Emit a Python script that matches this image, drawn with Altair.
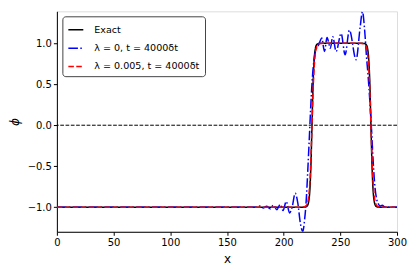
import altair as alt
import pandas as pd

# ---- data ----
exact_x = [0, 216, 219, 220, 221, 222, 223, 224, 225, 226, 227, 228, 229, 230, 231, 234,
           268, 271, 272, 273, 274, 275, 276, 277, 278, 279, 280, 281, 282, 283, 286, 300]
exact_y = [-1.0, -1.0, -0.998, -0.993, -0.98, -0.937, -0.814, -0.516, 0.0, 0.516, 0.814, 0.937, 0.98, 0.993, 0.998, 1.0,
           1.0, 0.998, 0.993, 0.98, 0.937, 0.814, 0.516, 0.0, -0.516, -0.814, -0.937, -0.98, -0.993, -0.998, -1.0, -1.0]

red_x = [0, 214, 217, 219, 220, 221, 222, 223, 224, 225, 226, 227, 228, 229, 230, 231, 233, 236,
         266, 269, 271, 272, 273, 274, 275, 276, 277, 278, 279, 280, 281, 282, 283, 285, 288, 300]
red_y = [-1.0, -1.0, -0.997, -0.99, -0.979, -0.949, -0.877, -0.72, -0.426, 0.0, 0.426, 0.72, 0.877, 0.949, 0.979, 0.99, 0.997, 1.0,
         1.0, 0.997, 0.99, 0.979, 0.949, 0.877, 0.72, 0.426, 0.0, -0.426, -0.72, -0.877, -0.949, -0.979, -0.99, -0.997, -1.0, -1.0]

blue_x = [0, 170, 176, 179, 182, 185, 188, 191, 194, 197, 199.5, 202.3, 205.2, 207.5, 210.2, 212.5, 214.8,
          216.9, 218.5, 219.9, 221.3, 222.5, 223.8, 225.2, 226.8, 228.5, 230.5, 232, 233.6, 236, 238.3, 241.2,
          243.3, 246.3, 250.7, 254.2, 258, 263.9, 267.5, 269.5, 271.5, 273, 274.5, 276, 277.5, 279, 280.5,
          282, 283.5, 285, 287, 289, 292, 300]
blue_y = [-1.0, -1.0, -1.0, -0.985, -1.01, -0.99, -1.02, -0.975, -1.03, -0.965, -1.04, -0.93, -1.07, -1.0, -0.83, -0.95, -1.2,
          -1.295, -1.15, -0.92, -0.55, -0.2, 0.2, 0.55, 0.8, 0.92, 0.97, 1.02, 1.064, 0.90, 1.07, 0.94,
          1.08, 0.90, 1.12, 0.86, 1.16, 0.80, 1.2, 1.385, 1.15, 0.85, 0.6, 0.3, -0.05, -0.45, -0.75,
          -0.9, -0.96, -0.985, -0.975, -0.995, -1.0, -1.0]

series_names = ["Exact", "λ = 0, t = 4000δt", "λ = 0.005, t = 4000δt"]
series_colors = ["#000000", "#0000ff", "#ff0000"]
series_dash = [[1, 0], [9.6, 2.4, 1.5, 2.4], [5.55, 2.4]]

x_ticks = [0, 50, 100, 150, 200, 250, 300]
y_ticks = [-1.0, -0.5, 0.0, 0.5, 1.0]

rows = []
for name, xs, ys in [(series_names[0], exact_x, exact_y),
                     (series_names[1], blue_x, blue_y),
                     (series_names[2], red_x, red_y)]:
    for i, (a, b) in enumerate(zip(xs, ys)):
        rows.append({"series": name, "x": a, "y": b, "i": i})
df = pd.DataFrame(rows)

FONT = "DejaVu Sans"

xscale = alt.Scale(domain=[0, 300], nice=False, zero=False)
yscale = alt.Scale(domain=[-1.30, 1.39], nice=False, zero=False)


def make_legend():
    return alt.Legend(title=None, orient="none", legendX=5.5, legendY=5,
                      symbolType="stroke", symbolSize=225, symbolStrokeWidth=1.5,
                      labelFont=FONT, labelFontSize=9.6, labelColor="black",
                      labelOffset=10, padding=5, rowPadding=4.4,
                      fillColor="white", strokeColor="#444", cornerRadius=3)


color = alt.Color("series:N",
                  scale=alt.Scale(domain=series_names, range=series_colors),
                  legend=make_legend())
dash = alt.StrokeDash("series:N",
                      scale=alt.Scale(domain=series_names, range=series_dash),
                      legend=make_legend())

xaxis = alt.Axis(values=x_ticks, format="d", title="x", titleFontWeight="normal",
                 titleFont=FONT, titleFontSize=12, titlePadding=6,
                 labelFont=FONT, labelFontSize=10, labelColor="black", labelPadding=2,
                 tickSize=3.5, tickColor="black", domainColor="black", grid=False, labelFlush=False)
yaxis = alt.Axis(values=y_ticks, format=".1f", title="ϕ", titleFontWeight="normal",
                 titleFontStyle="italic", titleFont=FONT, titleFontSize=12, titlePadding=6,
                 labelFont=FONT, labelFontSize=10, labelColor="black", labelPadding=2,
                 tickSize=3.5, tickColor="black", domainColor="black", grid=False)

zero_df = pd.DataFrame({"y0": [0.0]})
zero = alt.Chart(zero_df).mark_rule(color="black", strokeWidth=1, strokeDash=[3.7, 1.6]).encode(
    y=alt.Y("y0:Q", scale=yscale, axis=yaxis))

layers = []
for name in series_names:
    layers.append(
        alt.Chart(df).transform_filter(alt.datum.series == name)
        .mark_line(strokeWidth=1.5, clip=True, interpolate="monotone")
        .encode(x=alt.X("x:Q", scale=xscale, axis=xaxis),
                y=alt.Y("y:Q", scale=yscale, axis=yaxis),
                color=color, strokeDash=dash, order="i:Q")
    )

chart = alt.layer(zero, *layers).properties(
    width=341, height=221,
    autosize=alt.AutoSizeParams(type="none"),
    padding={"left": 49, "top": 3, "right": 10, "bottom": 40},
).configure_view(stroke="#888", strokeWidth=1.6).configure(font=FONT)

chart.save("out.html", embed_options={"renderer": "svg", "actions": False})
